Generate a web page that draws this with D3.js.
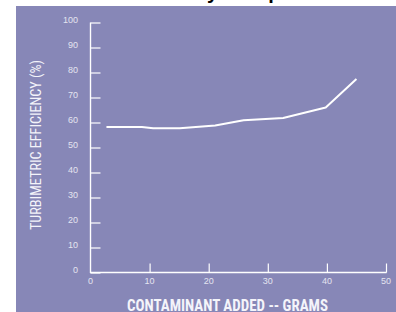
<!DOCTYPE html>
<html><head><meta charset="utf-8">
<script src="https://cdn.jsdelivr.net/npm/d3@7"></script>
<style>html,body{margin:0;padding:0;background:#fff;overflow:hidden}svg{display:block}</style>
</head><body>
<svg id="c" width="396" height="312"></svg>
<script>
const title = "Results by Component";
const xLabel = "CONTAMINANT ADDED -- GRAMS";
const yLabel = "TURBIMETRIC EFFICIENCY (%)";
const grams = [2.7, 8.7, 10.6, 15.1, 21.1, 25.9, 32.6, 39.8, 45.0];
const efficiency = [58.2, 58.2, 57.7, 57.7, 58.8, 60.9, 61.8, 66.0, 77.4];
const xTicks = [0, 10, 20, 30, 40, 50];
const yTicks = [0, 10, 20, 30, 40, 50, 60, 70, 80, 90, 100];

const svg = d3.select("#c");
const bg = "#8787b7";
svg.append("rect").attr("x", 16).attr("y", 6).attr("width", 380).attr("height", 306).attr("fill", bg);

svg.append("text").attr("x", 117).attr("y", -1)
  .attr("font-family", "Liberation Sans, Arial, sans-serif").attr("font-weight", "bold")
  .attr("font-size", 20).attr("fill", "#000").text(title);

const x = d3.scaleLinear().domain([0, 50]).range([90.5, 386]);
const y = d3.scaleLinear().domain([0, 100]).range([272.5, 22.5]);

const axisCol = "#ffffff";
const labCol = "#e4e4f0";
const font = "Liberation Sans, Arial, sans-serif";

// y axis
const ya = svg.append("g").attr("transform", `translate(${x(0)},0)`)
  .call(d3.axisRight(y).tickValues(yTicks).tickSize(10).tickFormat(""));
ya.select(".domain").remove();
ya.selectAll(".tick line").attr("stroke", axisCol).attr("stroke-width", 1.2);
svg.append("line").attr("x1", x(0)).attr("x2", x(0)).attr("y1", y(100)).attr("y2", y(0) + 0.6)
  .attr("stroke", axisCol).attr("stroke-width", 1.4);
svg.append("g").selectAll("text").data(yTicks).join("text")
  .attr("x", 78).attr("y", d => y(d) + 0.5).attr("text-anchor", "end")
  .attr("font-family", font).attr("font-size", 9).attr("fill", labCol).text(d => d);

// x axis
const xa = svg.append("g").attr("transform", `translate(0,${y(0)})`)
  .call(d3.axisTop(x).tickValues(xTicks.filter(d => d > 0)).tickSize(9).tickFormat(""));
xa.select(".domain").remove();
xa.selectAll(".tick line").attr("stroke", axisCol).attr("stroke-width", 1.2);
svg.append("line").attr("x1", x(0)).attr("x2", x(50) + 0.6).attr("y1", y(0)).attr("y2", y(0))
  .attr("stroke", axisCol).attr("stroke-width", 1.4);
svg.append("g").selectAll("text").data(xTicks).join("text")
  .attr("x", d => x(d)).attr("y", 284).attr("text-anchor", "middle")
  .attr("font-family", font).attr("font-size", 9).attr("fill", labCol).text(d => d);

// labels
svg.append("text").attr("x", 227.5).attr("y", 310.5).attr("text-anchor", "middle")
  .attr("font-family", "Liberation Sans Narrow, Roboto Condensed, Arial Narrow, sans-serif")
  .attr("font-weight", "bold").attr("font-size", 16).attr("fill", "#f4f4fa")
  .attr("textLength", 201).attr("lengthAdjust", "spacingAndGlyphs").text(xLabel);
svg.append("text").attr("transform", "translate(40.5,145) rotate(-90)").attr("text-anchor", "middle")
  .attr("font-family", "Liberation Sans Narrow, Roboto Condensed, Arial Narrow, sans-serif")
  .attr("font-size", 14.5).attr("fill", "#f4f4fa")
  .attr("textLength", 170).attr("lengthAdjust", "spacingAndGlyphs").text(yLabel);

// data line
const line = d3.line().x((d, i) => x(grams[i])).y((d, i) => y(efficiency[i]));
svg.append("path").datum(efficiency).attr("d", line).attr("fill", "none")
  .attr("stroke", "#ffffff").attr("stroke-width", 2).attr("stroke-linejoin", "round");
</script>
</body></html>
